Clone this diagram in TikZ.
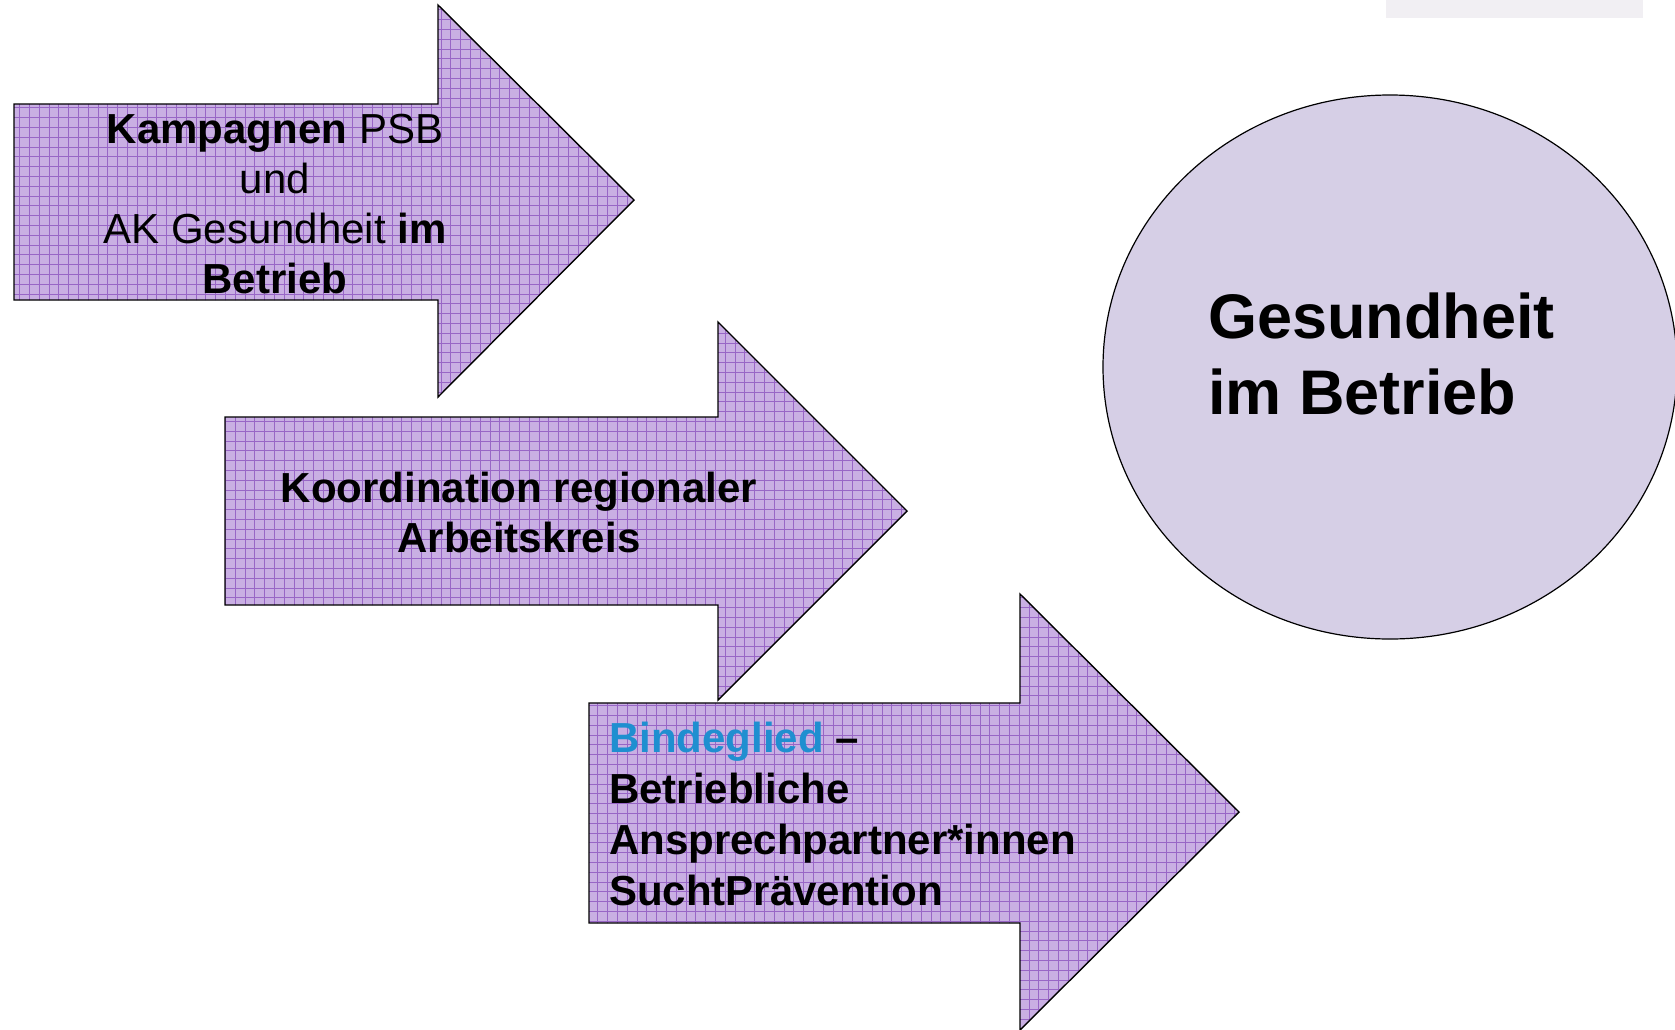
\documentclass[tikz,border=0pt]{standalone}
\usepackage{fontspec}
\setmainfont{Liberation Sans}
\definecolor{arrowfill}{HTML}{C9AFE3}
\definecolor{gridline}{HTML}{9866C6}
\definecolor{circfill}{HTML}{D6CFE6}
\definecolor{bindblue}{HTML}{1F8FD0}
\definecolor{topbar}{HTML}{F1EFF3}
\tikzset{
  outline/.style={draw=black, line width=1.4pt, line join=miter},
  arrowtext/.style={inner sep=0pt, font=\fontsize{42}{50}\selectfont},
  circtext/.style={inner sep=0pt, font=\fontsize{63}{76}\selectfont\bfseries, align=left, anchor=west}
}
% #1 left, #2 body top, #3 body bottom, #4 head x, #5 head top, #6 head bottom, #7 tip x, #8 tip y
\newcommand{\bigarrow}[8]{%
  \begin{scope}
    \clip (#1,#2) -- (#4,#2) -- (#4,#5) -- (#7,#8) -- (#4,#6) -- (#4,#3) -- (#1,#3) -- cycle;
    \fill[arrowfill] (#1,#5) rectangle (#7,#6);
    \draw[gridline, line width=0.7pt, step=9.8pt] (#1,#5) grid (#7,#6);
  \end{scope}
  \path[outline] (#1,#2) -- (#4,#2) -- (#4,#5) -- (#7,#8) -- (#4,#6) -- (#4,#3) -- (#1,#3) -- cycle;
}
\begin{document}
\begin{tikzpicture}[x=1pt, y=-1pt]
  \useasboundingbox (0,0) rectangle (1675,1029);
  \fill[white] (0,0) rectangle (1675,1029);
  % top bar
  \fill[topbar] (1386,0) rectangle (1643,18);
  % circle
  \begin{scope}
    \clip (0,0) rectangle (1675,1029);
    \path[fill=circfill, draw=black, line width=1.2pt] (1390,367) ellipse [x radius=287, y radius=272];
  \end{scope}
  \node[circtext] (goal) at (1208,354) {Gesundheit\\im Betrieb};
  % arrows
  \bigarrow{14}{104}{300}{438}{5}{397}{634}{200}
  \bigarrow{225}{417}{605}{718}{322}{700}{907}{511}
  \bigarrow{589}{703}{923}{1020}{594}{1030}{1239}{812}
  \node[arrowtext, align=center] (a1) at (275,204)
    {\textbf{Kampagnen} PSB\\und\\AK Gesundheit \textbf{im}\\\textbf{Betrieb}};
  \node[arrowtext, align=center, font=\fontsize{42}{50}\selectfont\bfseries] (a2) at (519,512)
    {Koordination regionaler\\Arbeitskreis};
  \node[arrowtext, align=left, anchor=west, font=\fontsize{42}{51}\selectfont\bfseries] (a3) at (609,814)
    {\textcolor{bindblue}{Bindeglied} –\\Betriebliche\\Ansprechpartner*innen\\SuchtPrävention};
\end{tikzpicture}
\end{document}
